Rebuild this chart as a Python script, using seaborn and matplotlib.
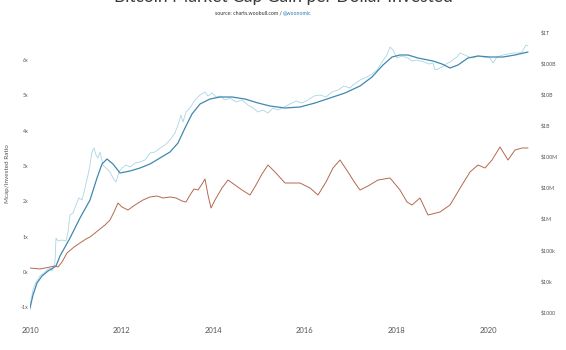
import matplotlib
matplotlib.use("Agg")
import matplotlib.pyplot as plt
import seaborn as sns
import pandas as pd
import numpy as np
from matplotlib.ticker import FixedLocator, FixedFormatter

# ---------------- data ----------------
W0, PX_YEAR = 30.0, 45.8      # helper to convert my readings only
def yr(x):
    return 2010 + (x - W0) / PX_YEAR
def ratio(y):
    return (272 - y) / 35.36
def cap(y):
    return 10 ** (3 + (312 - y) / 31.1)

raw_pts = [(30,310),(31,300),(33,290),(36,282),(40,276),(44,273),(47,270),(50,268),(52,271),(54,266),(55,262),
           (56,238),(58,241),(62,240),(66,241),(68,232),(70,215),(73,213),(76,205),(79,198),(82,200),(85,188),
           (88,175),(90,165),(92,152),(94,148),(96,155),(98,158),(100,152),(103,165),(106,168),(110,172),(113,178),
           (116,182),(119,172),(122,168),(126,165),(130,167),(135,163),(140,162),(145,160),(150,153),(155,152),
           (160,148),(165,145),(170,140),(175,133),(178,125),(181,115),(183,122),(186,112),(190,108),(195,100),
           (200,95),(205,92),(208,96),(212,93),(216,97),(220,96),(225,100),(230,98),(236,102),(242,100),(248,105),
           (253,108),(258,112),(263,110),(268,113),(273,108),(278,110),(284,107),(290,104),(296,101),(302,103),
           (308,100),(314,96),(320,95),(326,97),(332,92),(338,90),(344,86),(350,88),(353,85),(360,80),(367,77),
           (372,74),(377,70),(382,62),(387,55),(390,47),(393,50),(397,58),(402,56),(408,58),(412,61),(417,60),
           (424,62),(429,64),(433,63),(435,70),(438,69),(442,67),(446,64),(450,62),(454,59),(457,57),(460,53),
           (465,55),(469,57),(473,58),(478,56),(483,57),(490,58),(493,63),(497,57),(503,55),(508,54),(513,53),
           (518,53),(522,52),(526,45),(528,46)]

ma_pts = [(30,308),(33,295),(37,283),(42,276),(48,271),(53,268),(56,266),(60,256),(70,238),(80,218),(90,200),
          (97,178),(102,164),(107,159),(113,164),(120,173),(130,171),(140,168),(150,164),(160,158),(170,152),
          (178,143),(185,128),(192,114),(200,104),(210,99),(220,97),(232,97),(245,99),(258,103),(270,106),
          (285,108),(300,107),(315,103),(330,98),(345,93),(360,86),(372,77),(383,65),(392,57),(400,55),(408,55),
          (418,58),(433,61),(442,64),(450,68),(458,65),(468,58),(478,56),(490,57),(503,57),(515,55),(528,52)]

cap_pts = [(30,268),(40,269),(50,267),(55,266),(58,267),(62,262),(67,253),(74,247),(80,243),(86,239),(90,237),
           (95,233),(100,229),(105,225),(110,220),(114,212),(118,203),(122,207),(128,210),(135,205),(143,200),
           (150,197),(157,196),(163,198),(170,197),(176,198),(182,201),(186,202),(190,195),(194,189),(198,190),
           (202,184),(205,179),(208,195),(211,208),(215,200),(222,188),(228,180),(235,185),(242,190),(250,195),
           (256,185),(262,174),(268,165),(275,172),(285,183),(300,183),(310,188),(318,195),(326,182),(333,168),
           (340,160),(348,172),(355,183),(360,190),(368,186),(378,180),(390,178),(400,190),(407,202),(412,205),
           (420,198),(428,215),(440,212),(450,205),(456,195),(462,185),(470,172),(478,165),(485,168),(492,160),
           (500,147),(508,160),(515,150),(522,148),(528,148)]

raw_year  = [yr(x) for x, _ in raw_pts]
raw_ratio = [ratio(y) for _, y in raw_pts]
ma_year   = [yr(x) for x, _ in ma_pts]
ma_ratio  = [ratio(y) for _, y in ma_pts]
cap_year  = [yr(x) for x, _ in cap_pts]
cap_usd   = [cap(y) for _, y in cap_pts]

left_ticks  = [-1, 0, 1, 2, 3, 4, 5, 6]
left_labels = ["-1x", "0x", "1x", "2x", "3x", "4x", "5x", "6x"]
right_ticks  = [1e3, 1e4, 1e5, 1e6, 1e7, 1e8, 1e9, 1e10, 1e11, 1e12]
right_labels = ["$1000", "$10k", "$100k", "$1M", "$10M", "$100M", "$1B", "$10B", "$100B", "$1T"]
x_ticks = [2010, 2012, 2014, 2016, 2018, 2020]

raw_df = pd.DataFrame({"year": raw_year, "ratio": raw_ratio})
ma_df = pd.DataFrame({"year": ma_year, "ratio": ma_ratio})
cap_df = pd.DataFrame({"year": cap_year, "usd": cap_usd})

# ---------------- figure ----------------
sns.set_style("white")
plt.rcParams["font.family"] = ["Lato", "DejaVu Sans"]

fig = plt.figure(figsize=(5.66, 3.5), dpi=100)
ax = fig.add_axes([30/566, 1 - 320/350, 502/566, 292/350])
ax2 = ax.twinx()

sns.lineplot(data=raw_df, x="year", y="ratio", ax=ax, color="#a9d6e3", lw=0.6, sort=False)
sns.lineplot(data=ma_df, x="year", y="ratio", ax=ax, color="#3f88ae", lw=0.9, sort=False)
sns.lineplot(data=cap_df, x="year", y="usd", ax=ax2, color="#b4694e", lw=0.7, sort=False)

ax.set_xlim(2010, 2010 + 502 / 45.8)
ax.set_ylim(ratio(320), ratio(28))
ax2.set_yscale("log")
ax2.set_ylim(cap(320), cap(28))

ax.xaxis.set_major_locator(FixedLocator(x_ticks))
ax.set_xticklabels([str(t) for t in x_ticks])
ax.yaxis.set_major_locator(FixedLocator(left_ticks))
ax.yaxis.set_major_formatter(FixedFormatter(left_labels))
ax2.yaxis.set_major_locator(FixedLocator(right_ticks))
ax2.yaxis.set_major_formatter(FixedFormatter(right_labels))
ax2.yaxis.set_minor_locator(FixedLocator([]))

for a in (ax, ax2):
    for s in a.spines.values():
        s.set_visible(False)
    a.grid(False)
    a.set_xlabel("")
ax.tick_params(axis="x", length=0, pad=5, labelsize=5.5, labelcolor="#555555")
ax.tick_params(axis="y", length=0, pad=1, labelsize=3.8, labelcolor="#555555")
ax2.tick_params(axis="y", length=0, pad=6, labelsize=3.8, labelcolor="#555555")
ax.set_ylabel("Mcap/Invested Ratio", fontsize=4.6, color="#555555", labelpad=8)
ax2.set_ylabel("")

fig.text(0.5, 1 + 3/350, "Bitcoin Market Cap Gain per Dollar Invested", ha="center", va="center",
         fontsize=12.5, color="#3a3a3a", fontweight="normal")
fig.text(0.5, 1 - 13/350, "source: charts.woobull.com / ", ha="right", va="center",
         fontsize=3.8, color="#333333")
fig.text(0.5, 1 - 13/350, "@woonomic", ha="left", va="center", fontsize=3.8, color="#2b7bb9")

fig.savefig("out.png", dpi=100)
